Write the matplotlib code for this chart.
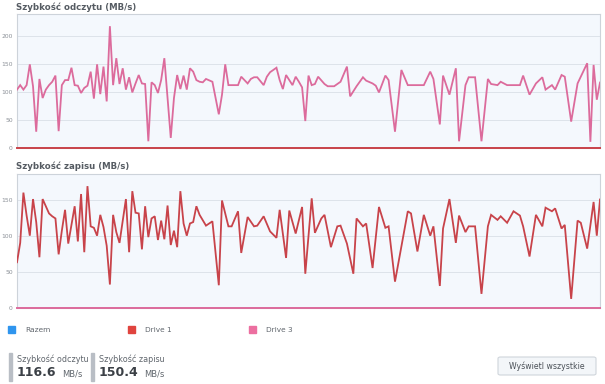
import matplotlib
matplotlib.use("Agg")
import matplotlib.pyplot as plt
from matplotlib.patches import Rectangle, FancyBboxPatch

# read speed (MB/s), sample index -> value
read_t = [0, 1, 2, 3, 4, 5, 6, 7, 8, 9, 10, 11, 12, 13, 14, 15, 16, 17, 18, 19,
          20, 21, 22, 23, 24, 25, 26, 27, 28, 29, 30, 31, 32, 33, 34, 35, 36, 37, 38, 39,
          40, 41, 42, 43, 44, 45, 46, 48, 49, 50, 51, 52, 53, 54, 55, 56, 57, 58, 59, 61,
          63, 64, 65, 66, 67, 68, 69, 70, 71, 72, 73, 74, 75, 77, 78, 79, 81, 82, 83, 84,
          85, 86, 87, 88, 89, 90, 91, 92, 93, 94, 96, 97, 99, 101, 103, 104, 106, 108, 109, 111,
          112, 113, 115, 116, 118, 120, 122, 123, 125, 127, 129, 130, 132, 133, 135, 137, 138, 140, 141, 143,
          145, 147, 148, 150, 151, 153, 155, 157, 158, 160, 162, 164, 165, 167, 168, 170, 171, 173, 175, 176,
          178, 179, 180, 181, 182]
read_drive3 = [104, 112, 104, 112, 149, 110, 29, 123, 89, 104, 112, 118, 129, 30, 112, 121, 121, 143, 112, 111,
               98, 107, 111, 136, 88, 149, 96, 145, 83, 217, 112, 160, 114, 142, 104, 126, 99, 115, 130, 115,
               114, 12, 117, 112, 98, 121, 160, 18, 89, 130, 105, 129, 104, 142, 136, 121, 118, 117, 123, 118,
               60, 95, 149, 112, 112, 112, 112, 127, 121, 115, 123, 126, 126, 112, 127, 135, 143, 121, 105, 130,
               121, 112, 127, 118, 108, 48, 129, 112, 114, 127, 114, 110, 110, 118, 145, 92, 110, 126, 120, 115,
               111, 99, 129, 121, 29, 139, 112, 112, 112, 112, 136, 123, 42, 129, 95, 142, 12, 112, 126, 126,
               12, 123, 114, 112, 118, 112, 112, 112, 129, 95, 115, 126, 104, 112, 104, 130, 127, 47, 115, 127,
               151, 11, 148, 86, 116.6]
read_drive1_t = [0, 182]
read_drive1 = [0, 0]

# write speed (MB/s)
write_t = [0, 1, 2, 3, 4, 5, 6, 7, 8, 10, 11, 12, 13, 14, 15, 16, 18, 19, 20, 21,
           22, 23, 24, 25, 26, 27, 28, 29, 30, 31, 32, 34, 35, 36, 37, 38, 39, 40, 41, 42,
           43, 44, 45, 46, 47, 48, 49, 50, 51, 52, 53, 54, 55, 56, 57, 59, 61, 63, 64, 66,
           67, 69, 70, 72, 74, 75, 77, 79, 81, 82, 84, 85, 87, 89, 90, 92, 93, 95, 96, 98,
           100, 101, 103, 105, 106, 108, 109, 111, 113, 115, 116, 118, 122, 123, 125, 127, 129, 130, 132, 133,
           135, 137, 138, 140, 141, 143, 145, 147, 148, 150, 151, 153, 155, 157, 158, 160, 162, 164, 165, 167,
           168, 170, 171, 173, 175, 176, 178, 180, 181, 182]
write_drive1 = [63, 90, 160, 128, 100, 151, 119, 70, 151, 131, 127, 124, 74, 107, 136, 89, 141, 92, 158, 77,
                169, 113, 111, 100, 129, 112, 86, 32, 129, 105, 90, 151, 77, 162, 132, 131, 81, 141, 98, 124,
                127, 94, 121, 95, 142, 87, 107, 84, 162, 117, 100, 117, 119, 141, 129, 114, 120, 31, 149, 113,
                113, 134, 76, 126, 113, 114, 127, 106, 97, 136, 69, 135, 103, 140, 47, 152, 104, 124, 129, 84,
                113, 114, 89, 47, 124, 113, 117, 55, 140, 111, 113, 36, 134, 131, 78, 129, 100, 113, 30, 110,
                151, 90, 128, 105, 113, 113, 19, 113, 129, 122, 127, 118, 134, 128, 113, 71, 129, 113, 139, 134,
                138, 110, 115, 12, 121, 118, 82, 147, 100, 150.4]
write_drive3_t = [0, 182]
write_drive3 = [0, 0]

legend_names = ["Razem", "Drive 1", "Drive 3"]
legend_colors = ["#2f95ee", "#e0443e", "#ec6fa0"]
read_ticks = [0, 50, 100, 150, 200]
write_ticks = [0, 50, 100, 150]

PINK = "#dc6b9c"
RED = "#c8434a"

W, H = 605, 384
fig = plt.figure(figsize=(W / 100, H / 100), dpi=100)
fig.patch.set_facecolor("white")


def fx(px):
    return px / W


def fy(py):
    return 1 - py / H


def style_ax(ax, ticks, ymax):
    ax.set_facecolor("#f4f8fd")
    ax.set_xlim(0, 182)
    ax.set_ylim(0, ymax)
    ax.set_yticks(ticks)
    ax.set_xticks([])
    ax.tick_params(axis="y", length=0, labelsize=4.3, labelcolor="#8a8f96", pad=3)
    ax.grid(axis="y", color="#dde3ea", linewidth=0.7)
    ax.set_axisbelow(True)
    for s in ax.spines.values():
        s.set_color("#cdd3da")
        s.set_linewidth(0.8)


ax1 = fig.add_axes([fx(17), fy(148), fx(583), 134 / H])
style_ax(ax1, read_ticks, max(read_drive3) * 1.1)
ax1.plot(read_drive1_t, read_drive1, color=RED, lw=1.4, clip_on=False, zorder=5)
ax1.plot(read_t, read_drive3, color=PINK, lw=1.3, solid_joinstyle="miter", zorder=4)

ax2 = fig.add_axes([fx(17), fy(307.5), fx(583), 133.5 / H])
style_ax(ax2, write_ticks, max(write_drive1) * 1.1)
ax2.plot(write_t, write_drive1, color=RED, lw=1.3, solid_joinstyle="miter", zorder=4)
ax2.plot(write_drive3_t, write_drive3, color=PINK, lw=1.4, clip_on=False, zorder=5)

fig.text(fx(16), fy(7), "Szybkość odczytu (MB/s)", fontsize=6.2, fontweight="bold",
         color="#555b62", va="center", ha="left")
fig.text(fx(16), fy(166), "Szybkość zapisu (MB/s)", fontsize=6.2, fontweight="bold",
         color="#555b62", va="center", ha="left")

# legend row
leg_x = [8, 128, 249]
for x, name, c in zip(leg_x, legend_names, legend_colors):
    fig.patches.append(Rectangle((fx(x), fy(333)), fx(7), 7 / H, color=c,
                                 transform=fig.transFigure, figure=fig))
    fig.text(fx(x + 17), fy(329.5), name, fontsize=5.3, color="#60666d", va="center", ha="left")

# summary values
for bx, label, val in [(9, "Szybkość odczytu", read_drive3[-1]), (91, "Szybkość zapisu", write_drive1[-1])]:
    fig.patches.append(Rectangle((fx(bx), fy(381)), fx(3), 28 / H, color="#b9bec5",
                                 transform=fig.transFigure, figure=fig))
    fig.text(fx(bx + 8), fy(359), label, fontsize=5.8, color="#60666d", va="center", ha="left")
    fig.text(fx(bx + 8), fy(373), f"{val:.1f}", fontsize=9, fontweight="bold",
             color="#3b4046", va="center", ha="left")
    fig.text(fx(bx + 53), fy(374), "MB/s", fontsize=6, color="#60666d", va="center", ha="left")

# button
fig.patches.append(FancyBboxPatch((fx(498), fy(375)), fx(98), 18 / H,
                                  boxstyle="round,pad=0,rounding_size=0.004",
                                  facecolor="#f3f6f9", edgecolor="#cfd5db", linewidth=0.8,
                                  transform=fig.transFigure, figure=fig))
fig.text(fx(547), fy(366), "Wyświetl wszystkie", fontsize=5.6, color="#4a5057",
         va="center", ha="center")

fig.savefig("out.png", dpi=100)
